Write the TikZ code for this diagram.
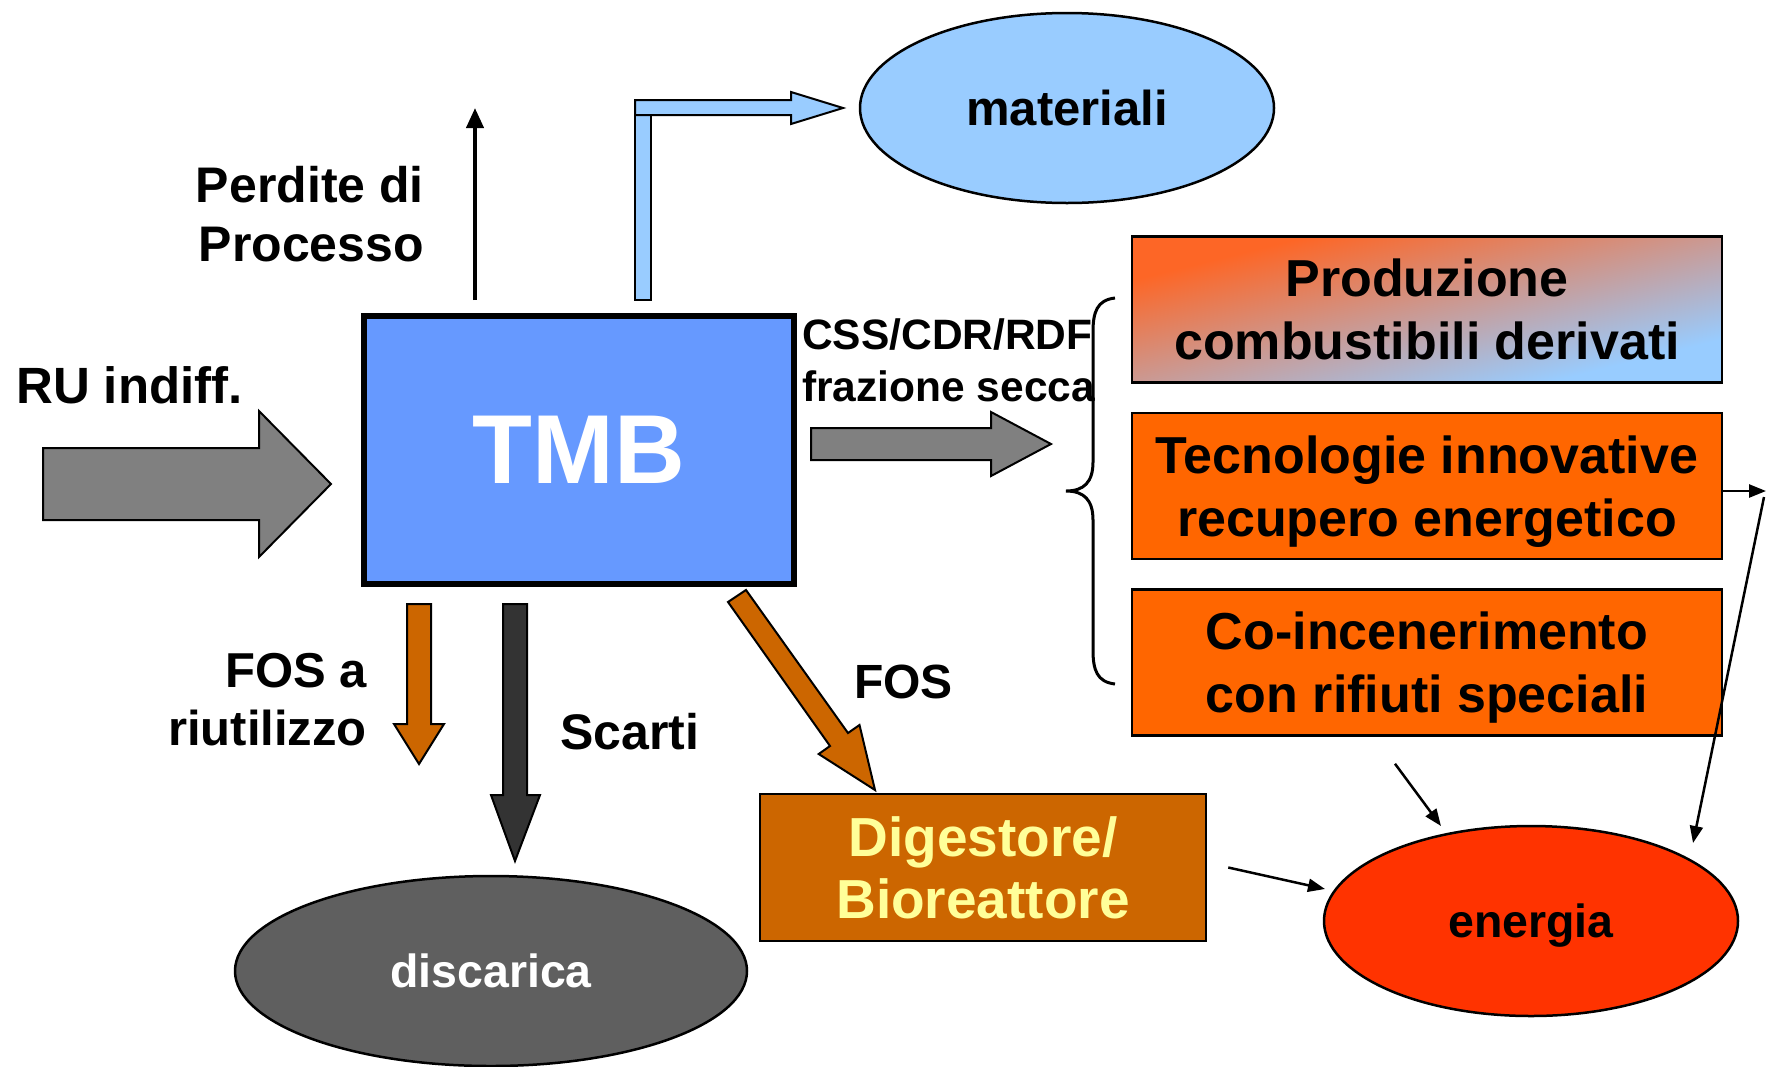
\documentclass[tikz,border=0pt]{standalone}
\usepackage{fontspec}
\setmainfont{Liberation Sans}
\usetikzlibrary{shapes.geometric,arrows.meta,calc}
\definecolor{tmbblue}{HTML}{6699FF}
\definecolor{lblue}{HTML}{99CCFF}
\definecolor{orng}{HTML}{FF6600}
\definecolor{brwn}{HTML}{CC6600}
\definecolor{ylw}{HTML}{FFFF99}
\definecolor{enrg}{HTML}{FF3300}
\definecolor{dgray}{HTML}{5F5F5F}
\definecolor{agray}{HTML}{808080}
\definecolor{darkg}{HTML}{333333}
\definecolor{gradA}{RGB}{253,102,38}
\definecolor{gradM}{RGB}{214,152,176}
\definecolor{gradB}{RGB}{152,204,255}
\begin{document}
\begin{tikzpicture}[x=1pt,y=-1pt,
  lab/.style={inner sep=0pt, font=\bfseries\fontsize{50}{59}\selectfont},
  boxst/.style={draw=black, line width=2.5pt, minimum width=590pt, minimum height=146pt,
    inner sep=0pt, align=center, text depth=0pt, font=\bfseries\fontsize{52}{63}\selectfont},
  ell/.style={ellipse, draw=black, line width=2.5pt, inner sep=0pt, text depth=0pt,
    font=\bfseries\fontsize{46.5}{56}\selectfont},
  blk/.style={draw=black, line width=2pt, line join=miter},
  con/.style={line width=2.5pt, -{Triangle[length=17pt,width=13pt]}}
]
\useasboundingbox[fill=white] (0,0) rectangle (1766,1066);

% main process box
\node[draw=black, line width=6pt, fill=tmbblue, minimum width=430pt, minimum height=268pt,
  inner sep=0pt, text=white, font=\bfseries\fontsize{98}{110}\selectfont] (tmb) at (579,450) {TMB};

% input arrow
\path[blk, fill=agray] (43,448) -- (259,448) -- (259,411) -- (331,484) -- (259,557) -- (259,520) -- (43,520) -- cycle;
\node[lab, anchor=base west, font=\bfseries\fontsize{51}{60}\selectfont] (ru) at (16,403) {RU indiff.};

% losses
\coordinate (pptip) at (475,108);
\draw[line width=4pt, -{Triangle[length=20pt,width=17pt]}] ($(tmb.north west)+(114,-13)$) -- (pptip);
\node[lab, align=right, anchor=east] (pp) at (424,214.5) {Perdite di\\Processo};

% materials
\path[blk, fill=lblue] (635,100) rectangle (651,300);
\path[blk, fill=lblue] (635,100) -- (791,100) -- (791,92) -- (843,108) -- (791,124) -- (791,115) -- (635,115) -- cycle;
\node[ell, fill=lblue, minimum width=414pt, minimum height=190pt, font=\bfseries\fontsize{49}{58}\selectfont] (mat) at (1067,108) {materiali};

% dry fraction
\node[lab, align=left, anchor=west, font=\bfseries\fontsize{42.5}{52}\selectfont] (css) at (802,360.5) {CSS/CDR/RDF\\frazione secca};
\path[blk, fill=agray] (811,428) -- (991,428) -- (991,412) -- (1051,444) -- (991,476) -- (991,460) -- (811,460) -- cycle;
\draw[line width=3pt] (1115,298) .. controls (1097,300) and (1093,312) .. (1093,332)
  -- (1093,462) .. controls (1093,482) and (1084,491) .. (1066,491)
  .. controls (1084,491) and (1093,500) .. (1093,520)
  -- (1093,650) .. controls (1093,670) and (1097,682) .. (1115,684);

% right boxes
\begin{scope}[transform canvas={shift={(1427,309.5)}, xscale=4.0411}]
  \shade[top color=gradA, middle color=gradM, bottom color=gradB, shading angle=45] (-73,-73) rectangle (73,73);
\end{scope}
\node[boxst] (prod) at (1427,309.5) {Produzione\\combustibili derivati};
\node[boxst, fill=orng] (tec) at (1427,486) {Tecnologie innovative\\recupero energetico};
\node[boxst, fill=orng] (coinc) at (1427,662.5) {Co-incenerimento\\con rifiuti speciali};

% downward arrows
\path[blk, fill=brwn] (407,604) -- (431,604) -- (431,724) -- (444,724) -- (419,764) -- (394,724) -- (407,724) -- cycle;
\node[lab, align=right, anchor=east, font=\bfseries\fontsize{49}{58}\selectfont] (fosa) at (367,699.5) {FOS a\\riutilizzo};
\path[blk, fill=darkg] (503,604) -- (527,604) -- (527,795) -- (540,795) -- (515,861) -- (491,795) -- (503,795) -- cycle;
\node[lab, anchor=base west] (scarti) at (560,749) {Scarti};
\path[blk, fill=brwn] (746,590) -- (848,733) -- (859.5,725) -- (875,790) -- (818.7,754) -- (830,746) -- (728,602) -- cycle;
\node[lab, anchor=base west, font=\bfseries\fontsize{48}{57}\selectfont] (fos) at (854,698) {FOS};

% bottom nodes
\node[ell, fill=dgray, text=white, minimum width=512pt, minimum height=190pt] (disc) at (491,971) {discarica};
\node[draw=black, line width=2.5pt, fill=brwn, minimum width=446pt, minimum height=147pt, inner sep=0pt,
  align=center, text depth=0pt, text=ylw, font=\bfseries\fontsize{55}{62}\selectfont] (dig) at (983,867.5) {Digestore/\\Bioreattore};
\node[ell, fill=enrg, minimum width=414pt, minimum height=190pt] (en) at (1531,921) {energia};

% energy connectors
\coordinate (e1) at (1441,826);
\coordinate (e2) at (1325,889);
\coordinate (r1) at (1766,491);
\coordinate (r2) at (1764,497);
\coordinate (e3) at (1693,843);
\draw[con] ($(coinc.south)+(-32,27)$) -- (e1);
\draw[con] ($(dig.east)+(21,0)$) -- (e2);
\draw[con] ($(tec.east)+(0,5)$) -- (r1);
\draw[con] (r2) -- (e3);
\end{tikzpicture}
\end{document}
